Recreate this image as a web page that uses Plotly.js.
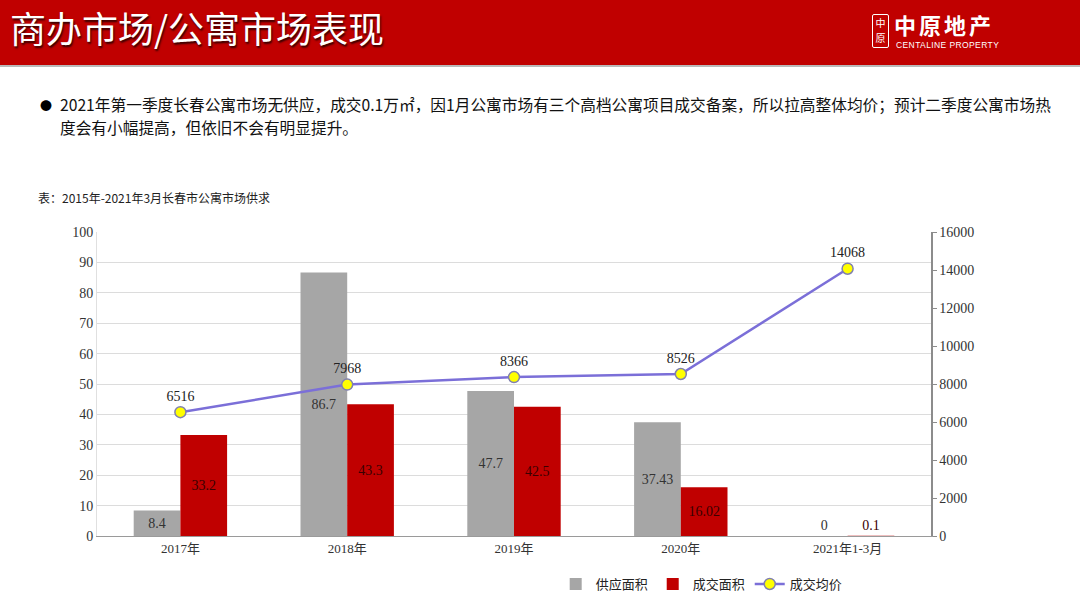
<!DOCTYPE html>
<html><head><meta charset="utf-8">
<script src="https://cdn.plot.ly/plotly-3.0.1.min.js"></script>
<style>
body{margin:0;width:1080px;height:608px;overflow:hidden;background:#fff;font-family:"Noto Sans CJK SC",sans-serif;}
#hdr{position:absolute;left:0;top:0;width:1080px;height:65px;background:#C00000;border-bottom:2px solid #b9b9b9;}
#ttl{position:absolute;left:10px;top:4px;color:#fff;font-size:36px;line-height:46px;letter-spacing:0px;text-shadow:1px 2px 2px #300;font-family:"Noto Sans CJK SC";}
#stamp{position:absolute;left:872px;top:14px;width:15px;height:32px;border:1px solid #fff;border-radius:2px;color:#fff;font-size:10px;line-height:15px;text-align:center;}
#logo1{position:absolute;left:894px;top:12px;color:#fff;font-size:22px;line-height:24px;font-weight:bold;letter-spacing:3px;}
#logo2{position:absolute;left:896px;top:41px;color:#fff;font-size:8.5px;line-height:9px;font-family:"Liberation Sans";letter-spacing:0.4px;}
#bul{position:absolute;left:40px;top:95px;font-size:12px;line-height:21px;}
#txt{position:absolute;left:60px;top:93px;width:1010px;font-size:15.7px;line-height:23px;color:#111;}
#cap{position:absolute;left:38px;top:189px;font-size:12px;color:#222;}
#plot{position:absolute;left:0;top:0;width:1080px;height:608px;}
</style></head>
<body>
<div id="plot"></div>
<div id="hdr"><div id="ttl">商办市场/公寓市场表现</div>
<div id="stamp">中<br>原</div><div id="logo1">中原地产</div><div id="logo2">CENTALINE PROPERTY</div></div>
<div id="bul">●</div>
<div id="txt">2021年第一季度长春公寓市场无供应，成交0.1万㎡，因1月公寓市场有三个高档公寓项目成交备案，所以拉高整体均价；预计二季度公寓市场热<br>度会有小幅提高，但依旧不会有明显提升。</div>
<div id="cap">表：2015年-2021年3月长春市公寓市场供求</div>
<script>
const categories = ["2017年","2018年","2019年","2020年","2021年1-3月"];
const supplyArea = [8.4, 86.7, 47.7, 37.43, 0];
const dealArea = [33.2, 43.3, 42.5, 16.02, 0.1];
const avgPrice = [6516, 7968, 8366, 8526, 14068];
const supplyLabels = ["8.4","86.7","47.7","37.43","0"];
const dealLabels = ["33.2","43.3","42.5","16.02","0.1"];

const serif = "Liberation Serif, DejaVu Serif, Noto Sans CJK SC, serif";
const pos = ["inside","inside","inside","inside","outside"];
const traces = [
 {type:"bar", name:"供应面积", x:categories, y:supplyArea, marker:{color:"#A6A6A6"},
  text:supplyLabels, textposition:pos, insidetextanchor:"middle", textangle:0, cliponaxis:false,
  textfont:{family:serif,size:14,color:"#333"}, constraintext:"none", hoverinfo:"none"},
 {type:"bar", name:"成交面积", x:categories, y:dealArea, marker:{color:"#C00000"},
  text:dealLabels, textposition:pos, insidetextanchor:"middle", textangle:0, cliponaxis:false,
  textfont:{family:serif,size:14,color:"#3a0000"}, constraintext:"none", hoverinfo:"none"},
 {type:"scatter", mode:"lines+markers+text", name:"成交均价", x:categories, y:avgPrice, yaxis:"y2",
  line:{color:"#7B6FD8",width:2.5}, marker:{color:"#FFFF00",size:11,line:{color:"#8080B0",width:1.5}},
  text:avgPrice.map(String), textposition:"top center", textfont:{family:serif,size:14,color:"#222"}, cliponaxis:false, hoverinfo:"none"}
];
const layout = {
 width:1080, height:608, margin:{l:97,r:149,t:232,b:72,autoexpand:false},
 paper_bgcolor:"#fff", plot_bgcolor:"#fff",
 barmode:"group", bargap:0.44, bargroupgap:0,
 font:{family:serif,size:13,color:"#333"},
 xaxis:{type:"category", automargin:false, showline:true, linecolor:"#9a9a9a", linewidth:1, ticks:"", tickfont:{family:serif,size:13,color:"#333"}, fixedrange:true},
 yaxis:{range:[0,100], dtick:10, automargin:false, showgrid:true, gridcolor:"#dcdcdc", gridwidth:1, zeroline:false, showline:true, linecolor:"#e0e0e0", ticks:"", tickfont:{family:serif,size:14,color:"#333"}, fixedrange:true},
 yaxis2:{overlaying:"y", side:"right", range:[0,16000], dtick:2000, tickformat:"d", automargin:false, showgrid:false, zeroline:false, showline:true, linecolor:"#8c8c8c", linewidth:1.5, ticks:"outside", ticklen:4, tickcolor:"#8c8c8c", tickfont:{family:serif,size:14,color:"#333"}, fixedrange:true},
 showlegend:true,
 legend:{orientation:"h", x:0.55, xanchor:"left", y:-0.158, yanchor:"middle", font:{family:serif,size:13,color:"#222"}, tracegroupgap:0, traceorder:"normal"}
};
Plotly.newPlot("plot", traces, layout, {staticPlot:true});
</script>
</body></html>
